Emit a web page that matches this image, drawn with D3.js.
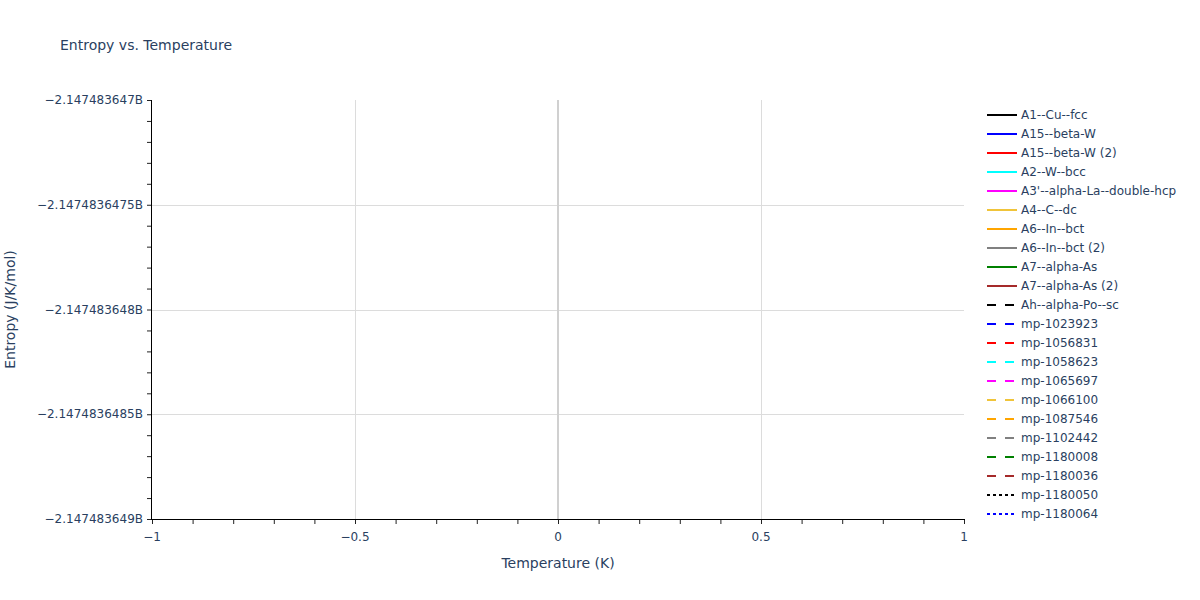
<!DOCTYPE html>
<html>
<head>
<meta charset="utf-8">
<script src="https://cdn.jsdelivr.net/npm/d3@7"></script>
<style>
  body { margin: 0; background: #fff; }
  svg text { font-family: "DejaVu Sans", Verdana, sans-serif; fill: #2a3f5f; }
</style>
</head>
<body>
<svg id="chart" width="1200" height="600"></svg>
<script>
// Entropy vs. Temperature -- every trace is empty, only axes and legend show

var seriesNames = [
  "A1--Cu--fcc", "A15--beta-W", "A15--beta-W (2)", "A2--W--bcc",
  "A3'--alpha-La--double-hcp", "A4--C--dc", "A6--In--bct", "A6--In--bct (2)",
  "A7--alpha-As", "A7--alpha-As (2)", "Ah--alpha-Po--sc",
  "mp-1023923", "mp-1056831", "mp-1058623", "mp-1065697", "mp-1066100",
  "mp-1087546", "mp-1102442", "mp-1180008", "mp-1180036", "mp-1180050",
  "mp-1180064"
];

var seriesColors = [
  "#000000", "#0000ff", "#ff0000", "#00ffff", "#ff00ff", "#f0c43a", "#ffa500",
  "#808080", "#008000", "#a52a2a",
  "#000000", "#0000ff", "#ff0000", "#00ffff", "#ff00ff", "#f0c43a", "#ffa500",
  "#808080", "#008000", "#a52a2a",
  "#000000", "#0000ff"
];
var seriesDash = [
  "solid", "solid", "solid", "solid", "solid", "solid", "solid", "solid", "solid", "solid",
  "dash", "dash", "dash", "dash", "dash", "dash", "dash", "dash", "dash", "dash",
  "dot", "dot"
];

// temperatures and entropies -- nothing plotted in the reference
var temperatures = [];
var entropyValues = seriesNames.map(function () { return []; });

var xDomain = [-1, 1];
var yDomain = [-2147483649, -2147483647];
var xTicks = [-1, -0.5, 0, 0.5, 1];
var xTickLabels = ["\u22121", "\u22120.5", "0", "0.5", "1"];
var yTicks = [-2147483647, -2147483647.5, -2147483648, -2147483648.5, -2147483649];
var yTickLabels = ["\u22122.147483647B", "\u22122.1474836475B", "\u22122.147483648B",
                   "\u22122.1474836485B", "\u22122.147483649B"];

var svg = d3.select("#chart");
var plotLeft = 152, plotRight = 964, plotTop = 100, plotBottom = 519;

var x = d3.scaleLinear().domain(xDomain).range([plotLeft, plotRight]);
var y = d3.scaleLinear().domain(yDomain).range([plotBottom, plotTop]);

var dashArray = function (d) {
  if (d === "dash") return "9,9";
  if (d === "dot") return "3,3";
  return null;
};

// grid
svg.append("g").selectAll("line")
  .data(xTicks.filter(function (t) { return t !== 0 && t !== -1 && t !== 1; }))
  .enter().append("line")
  .attr("x1", function (d) { return Math.round(x(d)) + 0.5; })
  .attr("x2", function (d) { return Math.round(x(d)) + 0.5; })
  .attr("y1", plotTop).attr("y2", plotBottom)
  .attr("stroke", "#dcdcdc").attr("stroke-width", 1);

svg.append("g").selectAll("line")
  .data(yTicks.slice(1, -1))
  .enter().append("line")
  .attr("x1", plotLeft).attr("x2", plotRight)
  .attr("y1", function (d) { return Math.round(y(d)) + 0.5; })
  .attr("y2", function (d) { return Math.round(y(d)) + 0.5; })
  .attr("stroke", "#dcdcdc").attr("stroke-width", 1);

// zero line
svg.append("line")
  .attr("x1", x(0)).attr("x2", x(0)).attr("y1", plotTop).attr("y2", plotBottom)
  .attr("stroke", "#d0d0d0").attr("stroke-width", 2);

// traces (empty)
var line = d3.line()
  .x(function (d, i) { return x(temperatures[i]); })
  .y(function (d) { return y(d); });

svg.append("g").selectAll("path")
  .data(entropyValues)
  .enter().append("path")
  .attr("d", function (d) { return line(d) || ""; })
  .attr("fill", "none")
  .attr("stroke", function (d, i) { return seriesColors[i]; })
  .attr("stroke-width", 2)
  .attr("stroke-dasharray", function (d, i) { return dashArray(seriesDash[i]); });

// axes (minor + major ticks every 0.1 of the range)
var xAxis = d3.axisBottom(x).tickValues(d3.range(-10, 11).map(function (v) { return v / 10; }))
  .tickSize(5).tickFormat("");
var xg = svg.append("g").attr("transform", "translate(0," + plotBottom + ")").call(xAxis);
xg.select(".domain").remove();
xg.selectAll(".tick line").attr("stroke", "#222");

var yAxis = d3.axisLeft(y)
  .tickValues(d3.range(0, 21).map(function (v) { return yDomain[0] + v / 10; }))
  .tickSize(5).tickFormat("");
var yg = svg.append("g").attr("transform", "translate(" + plotLeft + ",0)").call(yAxis);
yg.select(".domain").remove();
yg.selectAll(".tick line").attr("stroke", "#222");

svg.append("line").attr("x1", plotLeft).attr("x2", plotRight + 1)
  .attr("y1", plotBottom + 0.5).attr("y2", plotBottom + 0.5).attr("stroke", "#000");
svg.append("line").attr("x1", plotLeft - 0.5).attr("x2", plotLeft - 0.5)
  .attr("y1", plotTop).attr("y2", plotBottom + 1).attr("stroke", "#000");

svg.append("g").selectAll("text")
  .data(xTicks).enter().append("text")
  .attr("x", function (d) { return x(d); })
  .attr("y", plotBottom + 22)
  .attr("text-anchor", "middle")
  .style("font-size", "12px")
  .text(function (d, i) { return xTickLabels[i]; });

svg.append("g").selectAll("text")
  .data(yTicks).enter().append("text")
  .attr("x", plotLeft - 9)
  .attr("y", function (d) { return y(d) + 4; })
  .attr("text-anchor", "end")
  .style("font-size", "12px")
  .text(function (d, i) { return yTickLabels[i]; });

// titles
svg.append("text").attr("x", 60).attr("y", 50)
  .style("font-size", "14px").text("Entropy vs. Temperature");
svg.append("text").attr("x", (plotLeft + plotRight) / 2).attr("y", 568)
  .attr("text-anchor", "middle").style("font-size", "14px").text("Temperature (K)");
svg.append("text")
  .attr("transform", "translate(15," + ((plotTop + plotBottom) / 2) + ") rotate(-90)")
  .attr("text-anchor", "middle").style("font-size", "14px").text("Entropy (J/K/mol)");

// legend
var legend = svg.append("g").attr("transform", "translate(982,115)");
var items = legend.selectAll("g")
  .data(seriesNames).enter().append("g")
  .attr("transform", function (d, i) { return "translate(0," + (i * 19) + ")"; });
items.append("line")
  .attr("x1", 5).attr("x2", 35).attr("y1", 0).attr("y2", 0)
  .attr("stroke", function (d, i) { return seriesColors[i]; })
  .attr("stroke-width", 2)
  .attr("stroke-dasharray", function (d, i) { return dashArray(seriesDash[i]); });
items.append("text")
  .attr("x", 39).attr("y", 4)
  .style("font-size", "12px")
  .text(function (d) { return d; });
</script>
</body>
</html>
